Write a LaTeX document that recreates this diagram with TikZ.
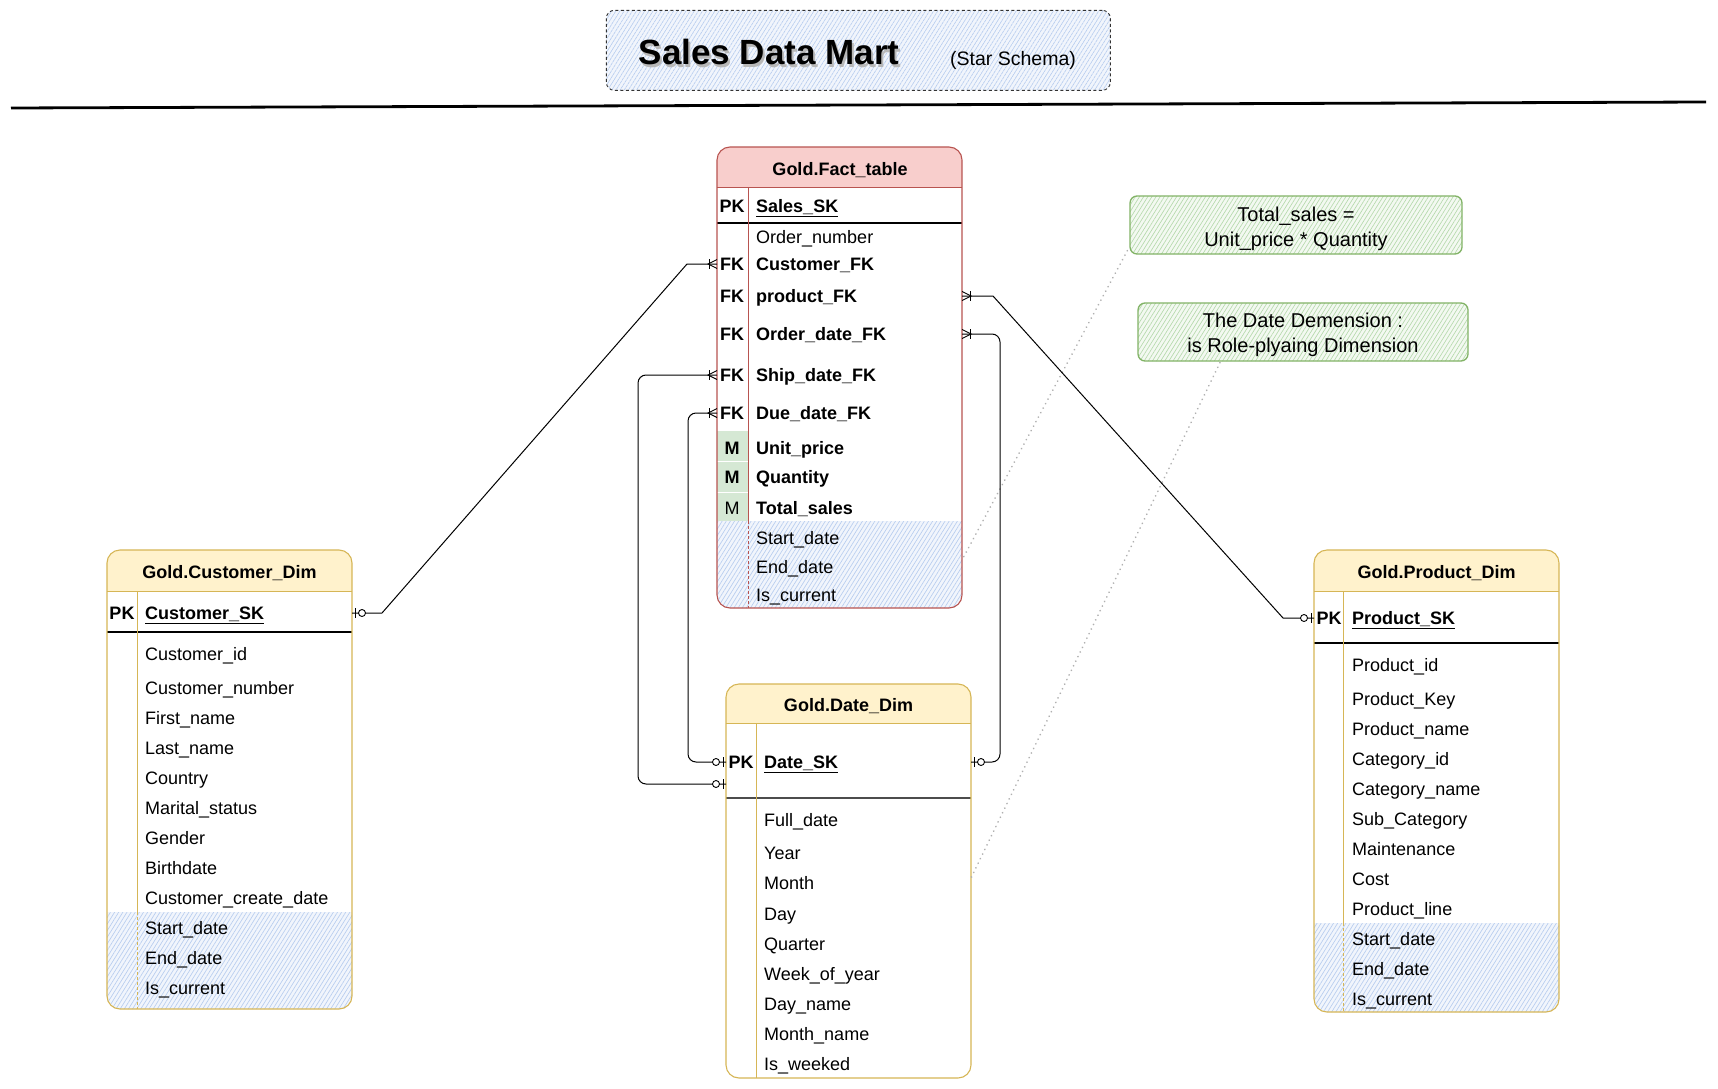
\documentclass[tikz,border=0pt]{standalone}
\usepackage{fontspec}
\setmainfont{Liberation Sans}
\usetikzlibrary{patterns.meta,calc}

\definecolor{factborder}{HTML}{B85450}
\definecolor{factfill}{HTML}{F8CECC}
\definecolor{dimborder}{HTML}{D6B656}
\definecolor{dimfill}{HTML}{FFF2CC}
\definecolor{mfill}{HTML}{D5E8D4}
\definecolor{noteborder}{HTML}{82B366}
\definecolor{notehatch}{HTML}{B5D9AC}
\definecolor{bluehatchc}{HTML}{B7CDEF}
\definecolor{bluetint}{HTML}{F1F5FC}
\definecolor{greentint}{HTML}{F3F9F1}
\definecolor{dotgray}{HTML}{B0B0B0}

\newcommand\fsz{\fontsize{18}{21}\selectfont}

\tikzset{
  fld/.style={anchor=west, inner sep=0pt, text height=15pt, text depth=2pt, font=\fsz},
  bfld/.style={fld, font=\fsz\bfseries},
  keycell/.style={anchor=center, inner sep=0pt, text height=15pt, text depth=2pt, font=\fsz\bfseries},
  keyreg/.style={keycell, font=\fsz},
  hdr/.style={anchor=center, inner sep=0pt, text height=15pt, text depth=2pt, font=\fsz\bfseries},
  tblframe/.style={anchor=north west, inner sep=0pt, outer sep=0pt, draw=none},
  conn/.style={draw=black, line width=1pt},
  bhatch/.style={pattern={Lines[angle=58,distance=3.5pt,line width=0.65pt]}, pattern color=bluehatchc},
  ghatch/.style={pattern={Lines[angle=58,distance=3.5pt,line width=0.65pt]}, pattern color=notehatch},
  notebox/.style={draw=noteborder, line width=1.3pt, rounded corners=7pt, preaction={fill=greentint}, ghatch,
    minimum height=58pt, inner sep=0pt},
  notetext/.style={align=center, inner sep=0pt, font=\fontsize{20}{25}\selectfont},
  annot/.style={draw=dotgray, line width=1.8pt, dash pattern=on 0.1pt off 5pt, line cap=round},
}

% zero-or-one marker: #1 point on table edge, #2 = +1 if line leaves to the right, -1 to the left
\newcommand\zomark[2]{%
  \begin{scope}[shift={(#1)}, xscale=#2]
    \draw[line width=0.9pt] (3,-5) -- (3,5);
    \draw[line width=0.9pt, fill=white] (10,0) circle[radius=3.5pt];
  \end{scope}}
% one-or-many marker
\newcommand\manymark[2]{%
  \begin{scope}[shift={(#1)}, xscale=#2]
    \draw[line width=0.9pt] (8,-5) -- (8,5);
    \draw[line width=0.9pt] (0,-4.5) -- (9,0) -- (0,4.5);
  \end{scope}}

\begin{document}
\begin{tikzpicture}[x=1pt, y=-1pt]
\useasboundingbox (0,0) rectangle (1718,1089);
\fill[white] (0,0) rectangle (1718,1089);

% ---------------- title ----------------
\node[anchor=north west, minimum width=504pt, minimum height=80pt, inner sep=0pt,
      draw=black!80, line width=0.9pt, dash pattern=on 3pt off 2.5pt, rounded corners=8pt,
      preaction={fill=bluetint}, bhatch] (tbox) at (606,10) {};
\node[anchor=base, inner sep=0pt, font=\fontsize{35}{41}\selectfont\bfseries, text=black!28] (title-sh) at (771,68) {Sales Data Mart};
\node[anchor=base, inner sep=0pt, font=\fontsize{35}{41}\selectfont\bfseries] (title) at (769,65) {Sales Data Mart};
\node[anchor=base, inner sep=0pt, font=\fontsize{19.5}{23}\selectfont] (subtitle) at (1013,66) {(Star Schema)};
\coordinate (rule-l) at (11,108);
\coordinate (rule-r) at (1706,102);
\draw[line width=2.8pt] (rule-l) -- (rule-r);

% ---------------- fact table ----------------
\node[tblframe, minimum width=245pt, minimum height=461pt] (fact) at (717,147) {};
\begin{scope}
  \clip[rounded corners=13pt] (fact.north west) rectangle (fact.south east);
  \fill[factfill] (fact.north west) rectangle ($(fact.north east)+(0,40)$);
  \fill[bluetint] (717,521) rectangle (962,608);
  \fill[bhatch] (717,521) rectangle (962,608);
\end{scope}
\fill[mfill] (717,431) rectangle (748,521);
\draw[white, line width=1pt] (717,461) -- (748,461) (717,492) -- (748,492);
\draw[factborder, line width=1pt] (717,187) -- (962,187);
\draw[black, line width=1.1pt] (717,223) -- (962,223);
\draw[factborder, line width=1pt] (748,187) -- (748,521);
\draw[factborder, line width=1pt, dash pattern=on 3pt off 2pt] (748,521) -- (748,608);
\draw[factborder, line width=1.1pt, rounded corners=13pt] (fact.north west) rectangle (fact.south east);
\node[hdr] (f-hdr) at (840,169) {Gold.Fact\_table};
\node[keycell] (f-k0) at (732,206) {PK}; \node[bfld] (f-sk) at (756,206) {\underline{Sales\_SK}};
\node[fld] (f-ord) at (756,237) {Order\_number};
\node[keycell] (f-k1) at (732,264) {FK}; \node[bfld] (f-cust) at (756,264) {Customer\_FK};
\node[keycell] (f-k2) at (732,296) {FK}; \node[bfld] (f-prod) at (756,296) {product\_FK};
\node[keycell] (f-k3) at (732,334) {FK}; \node[bfld] (f-odate) at (756,334) {Order\_date\_FK};
\node[keycell] (f-k4) at (732,375) {FK}; \node[bfld] (f-sdate) at (756,375) {Ship\_date\_FK};
\node[keycell] (f-k5) at (732,413) {FK}; \node[bfld] (f-ddate) at (756,413) {Due\_date\_FK};
\node[keycell] (f-m1) at (732,448) {M}; \node[bfld] (f-up) at (756,448) {Unit\_price};
\node[keycell] (f-m2) at (732,477) {M}; \node[bfld] (f-qty) at (756,477) {Quantity};
\node[keyreg] (f-m3) at (732,508) {M}; \node[bfld] (f-ts) at (756,508) {Total\_sales};
\node[fld] (f-sd) at (756,538) {Start\_date};
\node[fld] (f-ed) at (756,567) {End\_date};
\node[fld] (f-ic) at (756,595) {Is\_current};

% ---------------- customer dim ----------------
\node[tblframe, minimum width=245pt, minimum height=459pt] (cust) at (107,550) {};
\begin{scope}
  \clip[rounded corners=13pt] (cust.north west) rectangle (cust.south east);
  \fill[dimfill] (cust.north west) rectangle ($(cust.north east)+(0,41)$);
  \fill[bluetint] (107,912) rectangle (352,1009);
  \fill[bhatch] (107,912) rectangle (352,1009);
\end{scope}
\draw[dimborder, line width=1pt] (107,591) -- (352,591);
\draw[black, line width=1.1pt] (107,632) -- (352,632);
\draw[dimborder, line width=1pt] (137,591) -- (137,912);
\draw[dimborder, line width=1pt, dash pattern=on 3pt off 2pt] (137,912) -- (137,1009);
\draw[dimborder, line width=1.1pt, rounded corners=13pt] (cust.north west) rectangle (cust.south east);
\node[hdr] (c-hdr) at (229.5,572) {Gold.Customer\_Dim};
\node[keycell] (c-k0) at (122,613) {PK}; \node[bfld] (c-sk) at (145,613) {\underline{Customer\_SK}};
\node[fld] (c-1) at (145,654) {Customer\_id};
\node[fld] (c-2) at (145,688) {Customer\_number};
\node[fld] (c-3) at (145,718) {First\_name};
\node[fld] (c-4) at (145,748) {Last\_name};
\node[fld] (c-5) at (145,778) {Country};
\node[fld] (c-6) at (145,808) {Marital\_status};
\node[fld] (c-7) at (145,838) {Gender};
\node[fld] (c-8) at (145,868) {Birthdate};
\node[fld] (c-9) at (145,898) {Customer\_create\_date};
\node[fld] (c-10) at (145,928) {Start\_date};
\node[fld] (c-11) at (145,958) {End\_date};
\node[fld] (c-12) at (145,988) {Is\_current};

% ---------------- date dim ----------------
\node[tblframe, minimum width=245pt, minimum height=394pt] (date) at (726,684) {};
\begin{scope}
  \clip[rounded corners=13pt] (date.north west) rectangle (date.south east);
  \fill[dimfill] (date.north west) rectangle ($(date.north east)+(0,39)$);
\end{scope}
\draw[dimborder, line width=1pt] (726,723) -- (971,723);
\draw[black!70, line width=1.1pt] (726,798) -- (971,798);
\draw[dimborder, line width=1pt] (756,723) -- (756,1078);
\draw[dimborder, line width=1.1pt, rounded corners=13pt] (date.north west) rectangle (date.south east);
\node[hdr] (d-hdr) at (848.5,705) {Gold.Date\_Dim};
\node[keycell] (d-k0) at (741,762) {PK}; \node[bfld] (d-sk) at (764,762) {\underline{Date\_SK}};
\node[fld] (d-1) at (764,820) {Full\_date};
\node[fld] (d-2) at (764,853) {Year};
\node[fld] (d-3) at (764,883) {Month};
\node[fld] (d-4) at (764,914) {Day};
\node[fld] (d-5) at (764,944) {Quarter};
\node[fld] (d-6) at (764,974) {Week\_of\_year};
\node[fld] (d-7) at (764,1004) {Day\_name};
\node[fld] (d-8) at (764,1034) {Month\_name};
\node[fld] (d-9) at (764,1064) {Is\_weeked};

% ---------------- product dim ----------------
\node[tblframe, minimum width=245pt, minimum height=462pt] (prod) at (1314,550) {};
\begin{scope}
  \clip[rounded corners=13pt] (prod.north west) rectangle (prod.south east);
  \fill[dimfill] (prod.north west) rectangle ($(prod.north east)+(0,41)$);
  \fill[bluetint] (1314,923) rectangle (1559,1012);
  \fill[bhatch] (1314,923) rectangle (1559,1012);
\end{scope}
\draw[dimborder, line width=1pt] (1314,591) -- (1559,591);
\draw[black, line width=1.1pt] (1314,643) -- (1559,643);
\draw[dimborder, line width=1pt] (1343,591) -- (1343,923);
\draw[dimborder, line width=1pt, dash pattern=on 3pt off 2pt] (1343,923) -- (1343,1012);
\draw[dimborder, line width=1.1pt, rounded corners=13pt] (prod.north west) rectangle (prod.south east);
\node[hdr] (p-hdr) at (1436.5,572) {Gold.Product\_Dim};
\node[keycell] (p-k0) at (1329,618) {PK}; \node[bfld] (p-sk) at (1352,618) {\underline{Product\_SK}};
\node[fld] (p-1) at (1352,665) {Product\_id};
\node[fld] (p-2) at (1352,699) {Product\_Key};
\node[fld] (p-3) at (1352,729) {Product\_name};
\node[fld] (p-4) at (1352,759) {Category\_id};
\node[fld] (p-5) at (1352,789) {Category\_name};
\node[fld] (p-6) at (1352,819) {Sub\_Category};
\node[fld] (p-7) at (1352,849) {Maintenance};
\node[fld] (p-8) at (1352,879) {Cost};
\node[fld] (p-9) at (1352,909) {Product\_line};
\node[fld] (p-10) at (1352,939) {Start\_date};
\node[fld] (p-11) at (1352,969) {End\_date};
\node[fld] (p-12) at (1352,999) {Is\_current};

% ---------------- notes ----------------
\node[notebox, minimum width=332pt] (note1) at (1296,225) {};
\node[notetext] (note1-t) at (1296,229) {Total\_sales =\\Unit\_price * Quantity};
\node[notebox, minimum width=330pt] (note2) at (1303,332) {};
\node[notetext] (note2-t) at (1303,335) {The Date Demension :\\is Role-plyaing Dimension};

\coordinate (fact-anno) at ($(fact.south east)+(0,-48)$);
\coordinate (date-anno) at ($(date.north east)+(0,194)$);
\draw[annot] ($(note1.south west)+(-2,-4)$) -- (fact-anno);
\draw[annot] ($(note2.south)+(-83,1)$) -- (date-anno);

% ---------------- connector end points ----------------
\coordinate (c-sk-e) at (cust.east |- c-sk);
\coordinate (f-cust-w) at (fact.west |- f-cust);
\coordinate (f-prod-e) at (fact.east |- f-prod);
\coordinate (p-sk-w) at (prod.west |- p-sk);
\coordinate (f-odate-e) at (fact.east |- f-odate);
\coordinate (d-sk-e) at (date.east |- d-sk);
\coordinate (f-sdate-w) at (fact.west |- f-sdate);
\coordinate (f-ddate-w) at (fact.west |- f-ddate);
\coordinate (d-sk-w) at (date.west |- d-sk);
\coordinate (d-ship) at ($(d-sk-w)+(0,22)$);

% ---------------- connectors ----------------
\draw[conn] (c-sk-e) -- ++(30,0) -- ($(f-cust-w)+(-30,0)$) -- (f-cust-w);
\draw[conn] (f-prod-e) -- ++(31,0) -- ($(p-sk-w)+(-31,0)$) -- (p-sk-w);
\draw[conn, rounded corners=8pt] (f-odate-e) -| ($(d-sk-e)+(29,0)$) -- (d-sk-e);
\draw[conn, rounded corners=8pt] (f-sdate-w) -| ($(d-ship)+(-88,0)$) -- (d-ship);
\draw[conn, rounded corners=8pt] (f-ddate-w) -| ($(d-sk-w)+(-38,0)$) -- (d-sk-w);

% ---------------- cardinality marks ----------------
\zomark{c-sk-e}{1}
\manymark{f-cust-w}{-1}
\manymark{f-prod-e}{1}
\zomark{p-sk-w}{-1}
\manymark{f-odate-e}{1}
\zomark{d-sk-e}{1}
\manymark{f-sdate-w}{-1}
\zomark{d-ship}{-1}
\manymark{f-ddate-w}{-1}
\zomark{d-sk-w}{-1}

\end{tikzpicture}
\end{document}
